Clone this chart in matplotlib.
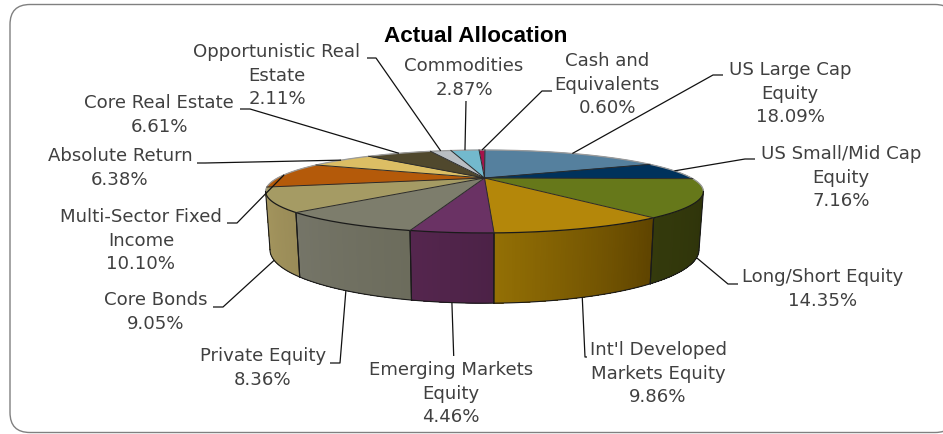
import numpy as np
import matplotlib
matplotlib.use("Agg")
import matplotlib.pyplot as plt
from matplotlib.patches import FancyBboxPatch
from matplotlib.colors import to_rgb

# slices in chart order, clockwise from the back of the pie
names = ["Cash and\nEquivalents", "US Large Cap\nEquity", "US Small/Mid Cap\nEquity",
         "Long/Short Equity", "Int'l Developed\nMarkets Equity", "Emerging Markets\nEquity",
         "Private Equity", "Core Bonds", "Multi-Sector Fixed\nIncome", "Absolute Return",
         "Core Real Estate", "Opportunistic Real\nEstate", "Commodities"]
values = [0.60, 18.09, 7.16, 14.35, 9.86, 4.46, 8.36, 9.05, 10.10, 6.38, 6.61, 2.11, 2.87]

top_colors = ["#a5124a", "#55809e", "#00325c", "#66781a", "#b4870a", "#6a3264", "#7d7d6c",
              "#a59b64", "#b45a0a", "#dcbe64", "#50482d", "#b9bec3", "#73b9cd"]
side_left = ["#a5124a", "#55809e", "#00325c", "#343a0c", "#947005", "#55264e", "#757568",
             "#a6975f", "#b45a0a", "#dcbe64", "#50482d", "#b9bec3", "#73b9cd"]
side_right = ["#a5124a", "#55809e", "#00325c", "#2e330a", "#5f4400", "#4c2247", "#6c6c5c",
              "#9a8c58", "#b45a0a", "#dcbe64", "#50482d", "#b9bec3", "#73b9cd"]

# where each label sits (centre x, first line y) and the leader's outer points
label_pos = [(607, 61), (790, 70), (841, 154), (823, 277), (658, 350), (451, 370), (263, 356),
             (156, 300), (141, 217), (120, 156), (159, 103), (277, 52), (464, 66)]
leader_ends = [[(552, 91), (542, 91)], [(723, 75), (713, 75)], [(755, 159), (745, 159)],
               [(738, 284), (728, 284)], [(587, 357), (585, 357)], [(453.7, 356)],
               [(330, 363), (340, 363)], [(213, 307), (223, 307)], [(227, 223), (237, 223)],
               [(197, 163), (205, 163)], [(240, 109), (250, 109)], [(367, 58), (376, 58)],
               [(466, 101)]]

# perspective of the pie
CX, CY = 484.5, 178
A, B, K = 207.0, 37.1, 0.325
DEPTH = 54.0
START = -2.0


def top_xy(theta):
    t = np.radians(theta)
    x, y = np.sin(t), -np.cos(t)
    w = 1 - K * y
    return CX + A * x / w, CY + B * y / w


def bottom_xy(theta):
    t = np.radians(theta)
    x, y = np.sin(t), -np.cos(t)
    w = 1 - K * y
    return CX + 0.98 * A * x / w, CY + B * y / w + DEPTH / w ** 0.67


def visible(theta):
    return -np.cos(np.radians(theta)) >= K


fig = plt.figure(figsize=(9.43, 4.34), dpi=100)
ax = fig.add_axes([0, 0, 1, 1])
ax.set_xlim(0, 943)
ax.set_ylim(434, 0)
ax.axis("off")

ax.add_patch(FancyBboxPatch((30, 24.5), 905, 388, boxstyle="round,pad=20,rounding_size=20",
                            fc="white", ec="#808080", lw=1.0, clip_on=False))

edges = START + np.concatenate([[0], np.cumsum(values)]) * 360 / np.sum(values)

# side wall first
for i in range(len(values)):
    th = np.linspace(edges[i], edges[i + 1], int((edges[i + 1] - edges[i]) * 2) + 2)
    th = th[visible(th)]
    if len(th) < 2:
        continue
    c0, c1 = np.array(to_rgb(side_left[i])), np.array(to_rgb(side_right[i]))
    for j in range(len(th) - 1):
        # th runs right to left along the front, so the right colour comes first
        f = j / (len(th) - 1)
        col = c1 * (1 - f) + c0 * f
        # each strip runs on to the end of the slice and the next one paints over it
        x0, y0 = top_xy(th[j:])
        x1, y1 = bottom_xy(th[j:])
        ax.fill(np.r_[x0, x1[::-1]], np.r_[y0, y1[::-1]], fc=col, lw=0, zorder=2)
    xb, yb = bottom_xy(th)
    ax.plot(xb, yb, color="#1a1a1a", lw=0.8, zorder=3)
    for e in (th[0], th[-1]):
        xt, yt = top_xy(e)
        xb, yb = bottom_xy(e)
        ax.plot([xt, xb], [yt, yb], color="#1a1a1a", lw=0.8, zorder=3)

# top face
for i in range(len(values)):
    th = np.linspace(edges[i], edges[i + 1], 80)
    x, y = top_xy(th)
    ax.fill(np.r_[CX, x], np.r_[CY, y], fc=top_colors[i], ec=top_colors[i], lw=0.3, zorder=4)

th = np.linspace(0, 360, 721)
x, y = top_xy(th)
front = np.where(visible(th), y, np.nan)
back = np.where(visible(th), np.nan, y)
ax.plot(x, back, color="#9a9a9a", lw=0.9, zorder=5)
ax.plot(x, front, color="#1a1a1a", lw=0.9, zorder=5)
for e in edges[:-1]:
    x, y = top_xy(e)
    ax.plot([CX, x], [CY, y], color="#2a2a2a", lw=0.7, zorder=5)

# leaders and labels
for i, name in enumerate(names):
    mid = (edges[i] + edges[i + 1]) / 2
    sx, sy = bottom_xy(mid) if visible(mid) else top_xy(mid)
    pts = leader_ends[i] + [(sx, sy)]
    ax.plot([p[0] for p in pts], [p[1] for p in pts], color="#111111", lw=0.9, zorder=6,
            solid_capstyle="butt")
    lines = name.split("\n") + [f"{values[i]:.2f}%"]
    lx, ly = label_pos[i]
    for n, line in enumerate(lines):
        ax.text(lx, ly + n * 23.6, line, ha="center", va="center", fontsize=13.1,
                family="DejaVu Sans", color="#404040", zorder=7)

ax.text(475.5, 36, "Actual Allocation", ha="center", va="center", fontsize=16.2,
        family="Liberation Sans", fontweight="bold", color="black", zorder=7)

fig.savefig("out.png", dpi=100)
